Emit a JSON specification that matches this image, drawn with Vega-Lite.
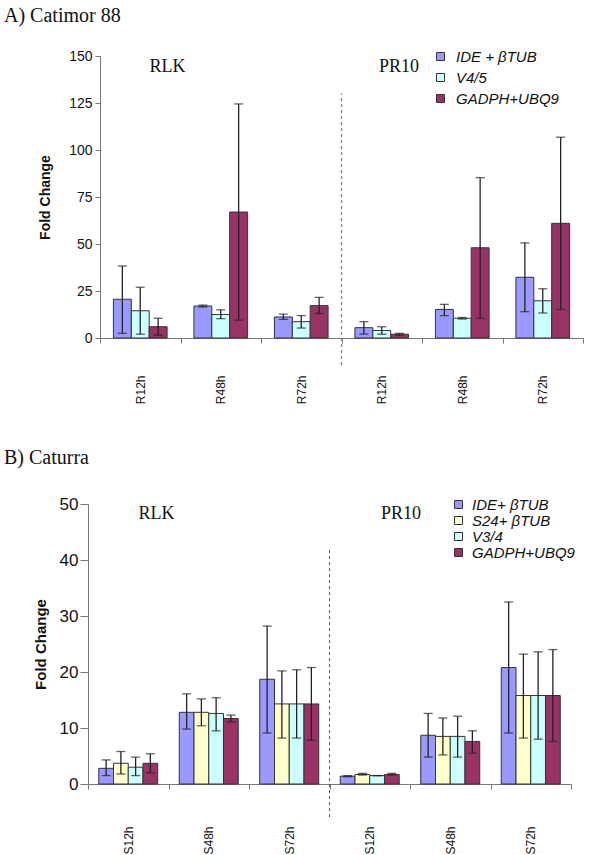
{
  "$schema": "https://vega.github.io/schema/vega-lite/v6.json",
  "padding": {"left": 4, "top": 6, "right": 0, "bottom": 0},
  "spacing": 44,
  "columns": 1,
  "align": "none",
  "bounds": "full",
  "resolve": {"scale": {"x": "independent", "y": "independent", "xOffset": "independent", "fill": "independent"}, "legend": {"fill": "independent"}, "axis": {"x": "independent", "y": "independent"}},
  "config": {
    "view": {"stroke": null},
    "font": "Liberation Sans",
    "axis": {"grid": false, "domainColor": "#777", "tickColor": "#777", "labelColor": "#111", "titleColor": "#111", "labelFont": "Liberation Sans", "titleFont": "Liberation Sans"},
    "legend": {"labelFont": "Liberation Sans", "labelColor": "#111"},
    "title": {"font": "Liberation Serif", "fontWeight": "normal", "fontSize": 20, "anchor": "start", "frame": "group", "color": "#111"}
  },
  "datasets": {
    "catimor": [
      {"cat": "RLK|R12h", "series": "IDE + βTUB", "v": 20.6, "lo": 2.5, "hi": 38.3},
      {"cat": "RLK|R12h", "series": "V4/5", "v": 14.5, "lo": 2, "hi": 27},
      {"cat": "RLK|R12h", "series": "GADPH+UBQ9", "v": 6, "lo": 1.5, "hi": 10.5},
      {"cat": "RLK|R48h", "series": "IDE + βTUB", "v": 17, "lo": 16.5, "hi": 17.5},
      {"cat": "RLK|R48h", "series": "V4/5", "v": 12.5, "lo": 10.3, "hi": 15},
      {"cat": "RLK|R48h", "series": "GADPH+UBQ9", "v": 67, "lo": 9.5, "hi": 124.5},
      {"cat": "RLK|R72h", "series": "IDE + βTUB", "v": 11.2, "lo": 9.9, "hi": 12.7},
      {"cat": "RLK|R72h", "series": "V4/5", "v": 8.7, "lo": 5.3, "hi": 11.9},
      {"cat": "RLK|R72h", "series": "GADPH+UBQ9", "v": 17.2, "lo": 13, "hi": 21.6},
      {"cat": "PR10|R12h", "series": "IDE + βTUB", "v": 5.5, "lo": 2.1, "hi": 8.7},
      {"cat": "PR10|R12h", "series": "V4/5", "v": 4, "lo": 2, "hi": 6},
      {"cat": "PR10|R12h", "series": "GADPH+UBQ9", "v": 2, "lo": 1.5, "hi": 2.5},
      {"cat": "PR10|R48h", "series": "IDE + βTUB", "v": 15.2, "lo": 11.9, "hi": 17.9},
      {"cat": "PR10|R48h", "series": "V4/5", "v": 10.5, "lo": 10.1, "hi": 10.9},
      {"cat": "PR10|R48h", "series": "GADPH+UBQ9", "v": 48, "lo": 10.5, "hi": 85.3},
      {"cat": "PR10|R72h", "series": "IDE + βTUB", "v": 32.3, "lo": 14, "hi": 50.6},
      {"cat": "PR10|R72h", "series": "V4/5", "v": 19.8, "lo": 13.3, "hi": 26.2},
      {"cat": "PR10|R72h", "series": "GADPH+UBQ9", "v": 61, "lo": 15.2, "hi": 106.8}
    ],
    "caturra": [
      {"cat": "RLK|S12h", "series": "IDE+ βTUB", "v": 2.8, "lo": 1.5, "hi": 4.3},
      {"cat": "RLK|S12h", "series": "S24+ βTUB", "v": 3.7, "lo": 1.8, "hi": 5.8},
      {"cat": "RLK|S12h", "series": "V3/4", "v": 3.0, "lo": 1.5, "hi": 4.8},
      {"cat": "RLK|S12h", "series": "GADPH+UBQ9", "v": 3.7, "lo": 2, "hi": 5.4},
      {"cat": "RLK|S48h", "series": "IDE+ βTUB", "v": 12.8, "lo": 9.8, "hi": 16.1},
      {"cat": "RLK|S48h", "series": "S24+ βTUB", "v": 12.8, "lo": 10.4, "hi": 15.2},
      {"cat": "RLK|S48h", "series": "V3/4", "v": 12.6, "lo": 9.5, "hi": 15.4},
      {"cat": "RLK|S48h", "series": "GADPH+UBQ9", "v": 11.7, "lo": 11.1, "hi": 12.3},
      {"cat": "RLK|S72h", "series": "IDE+ βTUB", "v": 18.7, "lo": 9.1, "hi": 28.2},
      {"cat": "RLK|S72h", "series": "S24+ βTUB", "v": 14.3, "lo": 8.2, "hi": 20.2},
      {"cat": "RLK|S72h", "series": "V3/4", "v": 14.3, "lo": 8.2, "hi": 20.4},
      {"cat": "RLK|S72h", "series": "GADPH+UBQ9", "v": 14.3, "lo": 7.8, "hi": 20.8},
      {"cat": "PR10|S12h", "series": "IDE+ βTUB", "v": 1.4, "lo": 1.3, "hi": 1.5},
      {"cat": "PR10|S12h", "series": "S24+ βTUB", "v": 1.7, "lo": 1.6, "hi": 1.9},
      {"cat": "PR10|S12h", "series": "V3/4", "v": 1.5, "lo": 1.5, "hi": 1.5},
      {"cat": "PR10|S12h", "series": "GADPH+UBQ9", "v": 1.7, "lo": 1.6, "hi": 1.9},
      {"cat": "PR10|S48h", "series": "IDE+ βTUB", "v": 8.7, "lo": 4.8, "hi": 12.6},
      {"cat": "PR10|S48h", "series": "S24+ βTUB", "v": 8.5, "lo": 5.2, "hi": 11.8},
      {"cat": "PR10|S48h", "series": "V3/4", "v": 8.5, "lo": 4.8, "hi": 12.1},
      {"cat": "PR10|S48h", "series": "GADPH+UBQ9", "v": 7.6, "lo": 5.5, "hi": 9.5},
      {"cat": "PR10|S72h", "series": "IDE+ βTUB", "v": 20.8, "lo": 9.1, "hi": 32.5},
      {"cat": "PR10|S72h", "series": "S24+ βTUB", "v": 15.8, "lo": 8.2, "hi": 23.2},
      {"cat": "PR10|S72h", "series": "V3/4", "v": 15.8, "lo": 8.0, "hi": 23.6},
      {"cat": "PR10|S72h", "series": "GADPH+UBQ9", "v": 15.8, "lo": 7.6, "hi": 24.0}
    ]
  },
  "concat": [
    {
      "title": {"text": "A)  Catimor 88", "dx": -96, "offset": 23},
      "width": 483,
      "height": 282,
      "data": {"name": "catimor"},
      "layer": [
        {
          "mark": {"type": "bar", "stroke": "#333", "strokeWidth": 1},
          "encoding": {
            "x": {"field": "cat", "type": "nominal", "title": null,
              "scale": {"domain": ["RLK|R12h", "RLK|R48h", "RLK|R72h", "PR10|R12h", "PR10|R48h", "PR10|R72h"], "paddingInner": 0, "paddingOuter": 0},
              "axis": {"labelExpr": "split(datum.label, '|')[1]", "labelAngle": -90, "labelFontSize": 12, "labelPadding": 32, "tickSize": 5, "tickBand": "extent"}},
            "xOffset": {"field": "series", "type": "nominal", "scale": {"domain": ["IDE + βTUB", "V4/5", "GADPH+UBQ9"], "paddingInner": 0, "paddingOuter": 0.75}},
            "y": {"field": "v", "type": "quantitative", "title": "Fold Change",
              "scale": {"domain": [0, 150], "nice": false},
              "axis": {"values": [0, 25, 50, 75, 100, 125, 150], "labelFontSize": 14, "tickSize": 5, "labelPadding": 3, "titleFontSize": 14, "titleFontWeight": "bold", "titlePadding": 16}},
            "fill": {"field": "series", "type": "nominal",
              "scale": {"domain": ["IDE + βTUB", "V4/5", "GADPH+UBQ9"], "range": ["#9999FF", "#CCFFFF", "#993366"]},
              "legend": {"title": null, "orient": "none", "legendX": 333, "legendY": -7, "symbolType": "square", "symbolSize": 64, "symbolStrokeColor": "#333", "symbolStrokeWidth": 1, "labelFontSize": 15, "labelFontStyle": "italic", "clipHeight": 15, "rowPadding": 5, "labelOffset": 8, "padding": 0}}
          }
        },
        {
          "mark": {"type": "rule", "color": "#222", "strokeWidth": 1.3},
          "encoding": {
            "x": {"field": "cat", "type": "nominal"},
            "xOffset": {"field": "series", "type": "nominal"},
            "y": {"field": "lo", "type": "quantitative", "title": "Fold Change"},
            "y2": {"field": "hi"}
          }
        },
        {
          "mark": {"type": "tick", "color": "#222", "size": 9, "thickness": 1.3, "orient": "horizontal"},
          "encoding": {
            "x": {"field": "cat", "type": "nominal"},
            "xOffset": {"field": "series", "type": "nominal"},
            "y": {"field": "hi", "type": "quantitative", "title": "Fold Change"}
          }
        },
        {
          "mark": {"type": "tick", "color": "#222", "size": 9, "thickness": 1.3, "orient": "horizontal"},
          "encoding": {
            "x": {"field": "cat", "type": "nominal"},
            "xOffset": {"field": "series", "type": "nominal"},
            "y": {"field": "lo", "type": "quantitative", "title": "Fold Change"}
          }
        },
        {
          "data": {"values": [{"cat": "PR10|R12h", "y": -14.4, "y2": 130}]},
          "mark": {"type": "rule", "color": "#888", "strokeWidth": 1.3, "strokeDash": [3, 3]},
          "encoding": {
            "x": {"field": "cat", "type": "nominal", "bandPosition": 0},
            "y": {"field": "y", "type": "quantitative", "title": "Fold Change"},
            "y2": {"field": "y2"}
          }
        },
        {
          "data": {"values": [{"cat": "RLK|R48h", "y": 141.5, "label": "RLK"}]},
          "mark": {"type": "text", "font": "Liberation Serif", "fontSize": 18, "align": "right", "baseline": "alphabetic", "dx": 5, "color": "#111"},
          "encoding": {
            "x": {"field": "cat", "type": "nominal", "bandPosition": 0},
            "y": {"field": "y", "type": "quantitative", "title": "Fold Change"},
            "text": {"field": "label"}
          }
        },
        {
          "data": {"values": [{"cat": "PR10|R48h", "y": 141.5, "label": "PR10"}]},
          "mark": {"type": "text", "font": "Liberation Serif", "fontSize": 18, "align": "right", "baseline": "alphabetic", "dx": -3, "color": "#111"},
          "encoding": {
            "x": {"field": "cat", "type": "nominal", "bandPosition": 0},
            "y": {"field": "y", "type": "quantitative", "title": "Fold Change"},
            "text": {"field": "label"}
          }
        }
      ]
    },
    {
      "title": {"text": "B) Caturra", "dx": -96, "offset": 27},
      "width": 483,
      "height": 280,
      "data": {"name": "caturra"},
      "layer": [
        {
          "mark": {"type": "bar", "stroke": "#333", "strokeWidth": 1},
          "encoding": {
            "x": {"field": "cat", "type": "nominal", "title": null,
              "scale": {"domain": ["RLK|S12h", "RLK|S48h", "RLK|S72h", "PR10|S12h", "PR10|S48h", "PR10|S72h"], "range": [-12, 471], "paddingInner": 0, "paddingOuter": 0},
              "axis": {"labelExpr": "split(datum.label, '|')[1]", "labelAngle": -90, "labelFontSize": 12, "labelPadding": 37, "tickSize": 5, "tickBand": "extent"}},
            "xOffset": {"field": "series", "type": "nominal", "scale": {"domain": ["IDE+ βTUB", "S24+ βTUB", "V3/4", "GADPH+UBQ9"], "paddingInner": 0, "paddingOuter": 0.73}},
            "y": {"field": "v", "type": "quantitative", "title": "Fold Change",
              "scale": {"domain": [0, 50], "nice": false},
              "axis": {"values": [0, 10, 20, 30, 40, 50], "offset": 12, "labelFontSize": 17, "tickSize": 8, "labelPadding": 2, "titleFontSize": 15, "titleFontWeight": "bold", "titlePadding": 11}},
            "fill": {"field": "series", "type": "nominal",
              "scale": {"domain": ["IDE+ βTUB", "S24+ βTUB", "V3/4", "GADPH+UBQ9"], "range": ["#9999FF", "#FFFFCC", "#CCFFFF", "#993366"]},
              "legend": {"title": null, "orient": "none", "legendX": 351, "legendY": -7, "symbolType": "square", "symbolSize": 64, "symbolStrokeColor": "#333", "symbolStrokeWidth": 1, "labelFontSize": 15, "labelFontStyle": "italic", "clipHeight": 15, "rowPadding": 0, "labelOffset": 6, "padding": 0}}
          }
        },
        {
          "mark": {"type": "rule", "color": "#222", "strokeWidth": 1.3},
          "encoding": {
            "x": {"field": "cat", "type": "nominal"},
            "xOffset": {"field": "series", "type": "nominal"},
            "y": {"field": "lo", "type": "quantitative", "title": "Fold Change"},
            "y2": {"field": "hi"}
          }
        },
        {
          "mark": {"type": "tick", "color": "#222", "size": 9, "thickness": 1.3, "orient": "horizontal"},
          "encoding": {
            "x": {"field": "cat", "type": "nominal"},
            "xOffset": {"field": "series", "type": "nominal"},
            "y": {"field": "hi", "type": "quantitative", "title": "Fold Change"}
          }
        },
        {
          "mark": {"type": "tick", "color": "#222", "size": 9, "thickness": 1.3, "orient": "horizontal"},
          "encoding": {
            "x": {"field": "cat", "type": "nominal"},
            "xOffset": {"field": "series", "type": "nominal"},
            "y": {"field": "lo", "type": "quantitative", "title": "Fold Change"}
          }
        },
        {
          "data": {"values": [{"cat": "PR10|S12h", "y": -5.9, "y2": 42.3}]},
          "mark": {"type": "rule", "color": "#555", "strokeWidth": 1, "strokeDash": [3, 3]},
          "encoding": {
            "x": {"field": "cat", "type": "nominal", "bandPosition": 0},
            "y": {"field": "y", "type": "quantitative", "title": "Fold Change"},
            "y2": {"field": "y2"}
          }
        },
        {
          "data": {"values": [{"cat": "RLK|S48h", "y": 47.3, "label": "RLK"}]},
          "mark": {"type": "text", "font": "Liberation Serif", "fontSize": 18, "align": "right", "baseline": "alphabetic", "dx": 6, "color": "#111"},
          "encoding": {
            "x": {"field": "cat", "type": "nominal", "bandPosition": 0},
            "y": {"field": "y", "type": "quantitative", "title": "Fold Change"},
            "text": {"field": "label"}
          }
        },
        {
          "data": {"values": [{"cat": "PR10|S48h", "y": 47.3, "label": "PR10"}]},
          "mark": {"type": "text", "font": "Liberation Serif", "fontSize": 18, "align": "right", "baseline": "alphabetic", "dx": 11, "color": "#111"},
          "encoding": {
            "x": {"field": "cat", "type": "nominal", "bandPosition": 0},
            "y": {"field": "y", "type": "quantitative", "title": "Fold Change"},
            "text": {"field": "label"}
          }
        }
      ]
    }
  ]
}
